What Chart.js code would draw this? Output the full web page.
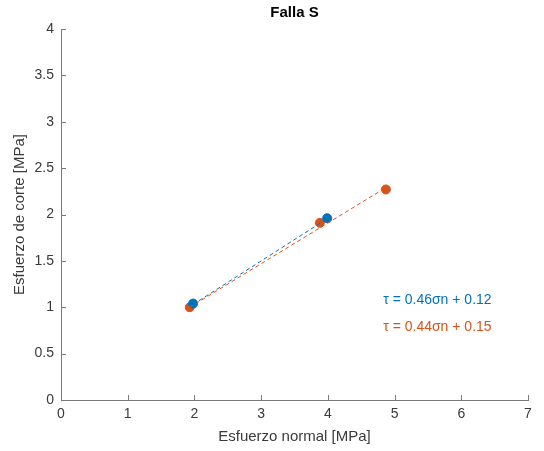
<!DOCTYPE html>
<html>
<head>
<meta charset="utf-8">
<script src="https://cdn.jsdelivr.net/npm/chart.js@4.4.0/dist/chart.umd.min.js"></script>
<style>
  html, body { margin: 0; padding: 0; background: #fff; }
  #wrap { width: 544px; height: 451px; }
</style>
</head>
<body>
<div id="wrap"><canvas id="myChart" width="544" height="451"></canvas></div>
<script>
const ctx = document.getElementById('myChart');

// datos
const sigmaAzul = [1.98, 3.99];
const tauAzul = [1.04, 1.96];
const sigmaNaranja = [1.93, 3.88, 4.87];
const tauNaranja = [1.00, 1.91, 2.27];

// rectas de ajuste (extremos)
const ajusteAzulX = [1.98, 3.99];
const ajusteAzulY = [1.03, 1.955];
const ajusteNaranjaX = [1.93, 4.87];
const ajusteNaranjaY = [1.00, 2.29];

const ecuaciones = ['τ = 0.46σn + 0.12', 'τ = 0.44σn + 0.15'];
const ecuacionPos = [[4.83, 1.08], [4.83, 0.79]];

const xTicks = [0, 1, 2, 3, 4, 5, 6, 7];
const yTicks = [0, 0.5, 1, 1.5, 2, 2.5, 3, 3.5, 4];

const azul = '#0072BD';
const naranja = '#D95319';
const fuente = '"Liberation Sans", Arial, sans-serif';

const puntos = (xs, ys) => xs.map((x, i) => ({ x: x, y: ys[i] }));

const extras = {
    id: 'extras',
    afterDraw(chart) {
        const c = chart.ctx;
        const a = chart.chartArea;
        const sx = chart.scales.x, sy = chart.scales.y;
        c.save();
        // marcas hacia dentro
        c.strokeStyle = '#7a7a7a';
        c.lineWidth = 1;
        c.beginPath();
        xTicks.forEach(t => {
            const px = Math.round(sx.getPixelForValue(t)) + 0.5;
            c.moveTo(px, a.bottom);
            c.lineTo(px, a.bottom - 5);
        });
        yTicks.forEach(t => {
            const py = Math.round(sy.getPixelForValue(t)) + 0.5;
            c.moveTo(a.left, py);
            c.lineTo(a.left + 5, py);
        });
        c.stroke();
        // titulo
        c.fillStyle = '#000';
        c.font = 'bold 15px ' + fuente;
        c.textAlign = 'center';
        c.textBaseline = 'middle';
        c.fillText('Falla S', (a.left + a.right) / 2, 13);
        // ecuaciones
        c.font = '14px ' + fuente;
        c.textAlign = 'left';
        [azul, naranja].forEach((col, i) => {
            c.fillStyle = col;
            c.fillText(ecuaciones[i], sx.getPixelForValue(ecuacionPos[i][0]), sy.getPixelForValue(ecuacionPos[i][1]));
        });
        c.restore();
    }
};

const myChart = new Chart(ctx, {
    type: 'scatter',
    data: {
        datasets: [
            {
                type: 'line',
                data: puntos(ajusteAzulX, ajusteAzulY),
                borderColor: azul,
                borderWidth: 1,
                borderDash: [4, 3],
                pointRadius: 0,
                fill: false
            },
            {
                type: 'line',
                data: puntos(ajusteNaranjaX, ajusteNaranjaY),
                borderColor: naranja,
                borderWidth: 1,
                borderDash: [4, 3],
                pointRadius: 0,
                fill: false
            },
            {
                data: puntos(sigmaAzul, tauAzul),
                backgroundColor: azul,
                borderColor: azul,
                pointRadius: 4.5
            },
            {
                data: puntos(sigmaNaranja, tauNaranja),
                backgroundColor: naranja,
                borderColor: naranja,
                pointRadius: 4.5
            }
        ]
    },
    options: {
        responsive: false,
        animation: false,
        layout: { padding: { top: 29, right: 16, bottom: 0, left: 0 } },
        plugins: {
            legend: { display: false },
            tooltip: { enabled: false }
        },
        scales: {
            x: {
                type: 'linear',
                min: 0,
                max: 7,
                afterBuildTicks: s => { s.ticks = xTicks.map(v => ({ value: v })); },
                afterFit: s => { s.height = 51; },
                grid: { display: false, drawTicks: false },
                border: { display: true, color: '#7a7a7a', width: 1 },
                ticks: { color: '#3a3a3a', font: { family: fuente, size: 14 }, padding: 6, maxRotation: 0, callback: v => String(v) },
                title: { display: true, text: 'Esfuerzo normal [MPa]', color: '#3a3a3a', font: { family: fuente, size: 15 }, padding: { top: 0, bottom: 5 } }
            },
            y: {
                type: 'linear',
                min: 0,
                max: 4,
                afterBuildTicks: s => { s.ticks = yTicks.map(v => ({ value: v })); },
                afterFit: s => { s.width = 61; },
                grid: { display: false, drawTicks: false },
                border: { display: true, color: '#7a7a7a', width: 1 },
                ticks: { color: '#3a3a3a', font: { family: fuente, size: 14 }, padding: 7, callback: v => String(v) },
                title: { display: true, text: 'Esfuerzo de corte [MPa]', color: '#3a3a3a', font: { family: fuente, size: 15 }, padding: { top: 11, bottom: 0 } }
            }
        }
    },
    plugins: [extras]
});
</script>
</body>
</html>
